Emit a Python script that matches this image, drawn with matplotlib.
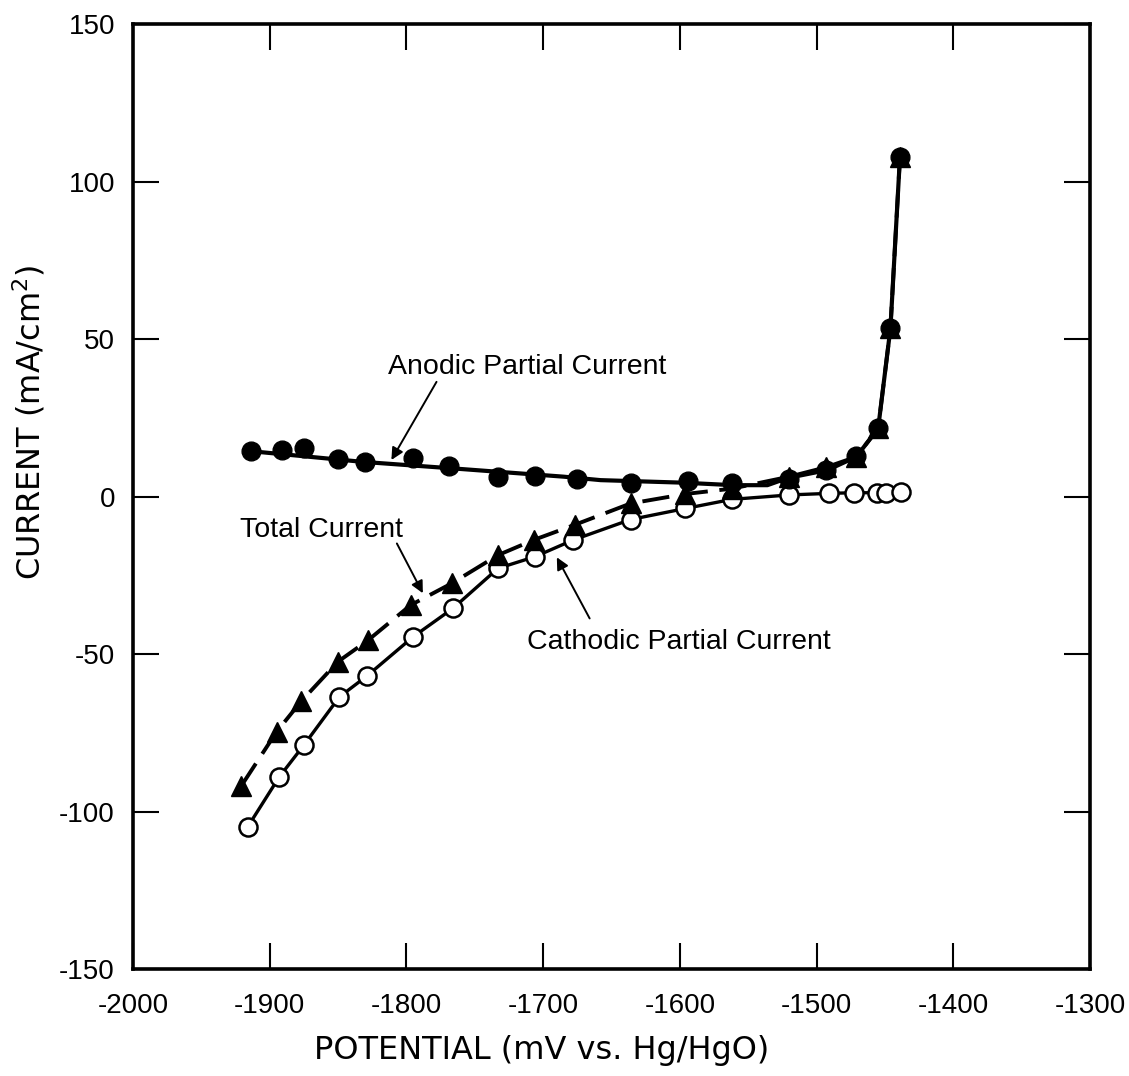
import matplotlib
matplotlib.use("Agg")
import matplotlib.pyplot as plt

plt.rcParams["font.family"] = ["Liberation Sans", "DejaVu Sans"]
plt.rcParams["axes.unicode_minus"] = False

# anodic partial current (filled circles), mV vs mA/cm2
anodic_x = [-1914, -1891, -1875, -1850, -1830, -1795, -1769, -1733, -1706,
            -1675, -1636, -1594, -1562, -1520, -1493, -1471, -1455, -1446, -1439]
anodic_y = [14.4, 14.8, 15.3, 11.8, 11.0, 12.1, 9.7, 6.3, 6.5,
            5.6, 4.4, 5.0, 4.2, 5.5, 8.5, 12.8, 21.6, 53.4, 107.9]

# smoothed curve through the anodic points
anodic_fit_x = [-1914, -1832, -1759, -1685, -1658, -1598, -1561, -1536,
                -1521, -1492, -1471, -1455, -1446, -1439]
anodic_fit_y = [14.4, 11.0, 8.7, 6.3, 5.2, 4.4, 3.6, 3.6,
                5.9, 8.4, 12.6, 21.6, 53.4, 108.0]

# cathodic partial current (open circles)
cathodic_x = [-1916, -1893, -1875, -1849, -1829, -1795, -1766, -1733, -1706,
              -1678, -1636, -1596, -1562, -1520, -1491, -1473, -1456, -1449, -1438]
cathodic_y = [-104.8, -89.0, -78.9, -63.6, -57.0, -44.5, -35.5, -22.8, -19.1,
              -13.8, -7.3, -3.8, -0.9, 0.5, 1.0, 1.2, 1.2, 1.2, 1.5]

# total current (filled triangles, dashed)
total_x = [-1921, -1895, -1877, -1850, -1828, -1797, -1767, -1733, -1707,
           -1677, -1636, -1596, -1562, -1520, -1493, -1471, -1455, -1446, -1439]
total_y = [-92.0, -74.7, -65.0, -52.4, -45.6, -34.5, -27.6, -18.6, -13.8,
           -9.0, -2.2, 0.8, 2.5, 6.3, 9.3, 12.6, 21.6, 53.4, 107.9]

fig = plt.figure(figsize=(11.29, 10.76), dpi=100)
ax = fig.add_axes([0.1178, 0.0994, 0.8477, 0.8783])

ax.plot(anodic_fit_x, anodic_fit_y, color="black", lw=3.0, zorder=2)
ax.plot(anodic_x, anodic_y, "o", color="black", ms=13.5, zorder=4)

ax.plot(cathodic_x, cathodic_y, "-o", color="black", lw=2.4, ms=13,
        mfc="white", mec="black", mew=1.8, zorder=3)

ax.plot(total_x, total_y, color="black", lw=2.8, dashes=(7, 3), zorder=2)
ax.plot(total_x, total_y, "^", color="black", ms=14, zorder=4)

arrow = dict(arrowstyle="-|>", color="black", lw=1.4, mutation_scale=18,
             shrinkA=0, shrinkB=0)
ax.annotate("", xy=(-1811, 11.6), xytext=(-1778, 36.4), arrowprops=arrow)
ax.text(-1712, 41.0, "Anodic Partial Current", fontsize=20.5,
        ha="center", va="center")

ax.annotate("", xy=(-1788, -30.7), xytext=(-1807, -14.9), arrowprops=arrow)
ax.text(-1862, -10.5, "Total Current", fontsize=20.5, ha="center", va="center")

ax.annotate("", xy=(-1690, -19.3), xytext=(-1666, -38.7), arrowprops=arrow)
ax.text(-1601, -46.3, "Cathodic Partial Current", fontsize=20.5,
        ha="center", va="center")

ax.set_xlim(-2000, -1300)
ax.set_ylim(-150, 150)
ax.set_xticks(range(-2000, -1299, 100))
ax.set_yticks(range(-150, 151, 50))
ax.tick_params(direction="in", length=19, width=1.5, labelsize=20,
               top=True, right=True, pad=13)
ax.tick_params(axis="x", pad=17)
for s in ax.spines.values():
    s.set_linewidth(2.6)

ax.set_xlabel("POTENTIAL (mV vs. Hg/HgO)", fontsize=23, va="center",
              family="DejaVu Sans")
ax.xaxis.set_label_coords(0.427, -0.0857)
ax.set_ylabel("CURRENT (mA/cm$^2$)", fontsize=23, va="center",
              family="DejaVu Sans")
ax.yaxis.set_label_coords(-0.108, 0.579)

fig.savefig("out.png", dpi=100)
plt.close(fig)
